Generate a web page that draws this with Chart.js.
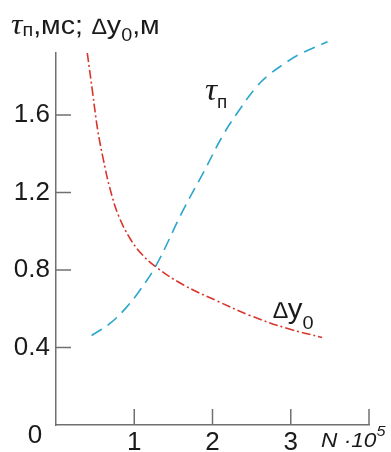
<!DOCTYPE html>
<html><head><meta charset="utf-8">
<script src="https://cdn.jsdelivr.net/npm/chart.js@4/dist/chart.umd.min.js"></script>
<style>html,body{margin:0;padding:0;background:#fff;overflow:hidden}#wrap{position:relative;width:391px;height:452px}</style>
</head><body><div id="wrap"><canvas id="c" width="391" height="452"></canvas></div>
<script>
// Δy0 (red dash-dot)
const dyX = [0.40, 0.47, 0.53, 0.60, 0.69, 0.80, 0.95, 1.10, 1.29, 1.62, 2.06, 2.48, 2.96, 3.40];
const dyY = [1.92, 1.71, 1.53, 1.38, 1.22, 1.08, 0.96, 0.88, 0.812, 0.725, 0.640, 0.565, 0.498, 0.452];
// τп (blue dashed)
const tauX = [0.455, 0.69, 0.90, 1.07, 1.29, 1.62, 1.88, 2.14, 2.35, 2.55, 2.70, 2.90, 3.12, 3.47];
const tauY = [0.462, 0.524, 0.607, 0.694, 0.832, 1.105, 1.30, 1.50, 1.63, 1.74, 1.80, 1.86, 1.915, 1.978];
const xTicks = [1, 2, 3, 4];
const yTicks = [0.4, 0.8, 1.2, 1.6];
const xLabels = ['1', '2', '3', ''];
const yLabels = ['0.4', '0.8', '1.2', '1.6'];

const SANS = '"Liberation Sans", Arial, sans-serif';
const SERIF = '"Liberation Serif", serif';

function drawRich(ctx, x, y, segs, sx) {
  sx = sx || 1;
  ctx.save();
  ctx.translate(x, y);
  ctx.scale(sx, 1);
  ctx.textBaseline = 'alphabetic';
  ctx.textAlign = 'left';
  ctx.fillStyle = '#1a1a1a';
  let cx = 0;
  for (const s of segs) {
    ctx.font = s.font;
    cx += (s.dx || 0);
    ctx.fillText(s.t, cx, (s.dy || 0));
    cx += ctx.measureText(s.t).width;
  }
  ctx.restore();
}

const decor = {
  id: 'decor',
  afterDraw(chart) {
    const ctx = chart.ctx;
    const xs = chart.scales.x, ys = chart.scales.y;
    const ca = chart.chartArea;
    ctx.save();
    ctx.strokeStyle = '#707070';
    ctx.lineWidth = 1.5;
    xTicks.forEach(v => {
      const px = xs.getPixelForValue(v);
      ctx.beginPath(); ctx.moveTo(px, ca.bottom); ctx.lineTo(px, ca.bottom - 16); ctx.stroke();
    });
    yTicks.forEach(v => {
      const py = ys.getPixelForValue(v);
      ctx.beginPath(); ctx.moveTo(ca.left, py); ctx.lineTo(ca.left + 15, py); ctx.stroke();
    });
    ctx.restore();
    // origin label
    ctx.save();
    ctx.font = '26px ' + SANS;
    ctx.fillStyle = '#1a1a1a';
    ctx.textAlign = 'center';
    ctx.textBaseline = 'alphabetic';
    ctx.fillText('0', 35, 443);
    ctx.restore();
    // axis name at x = 4
    drawRich(ctx, 321, 447, [
      {t: 'N ·10', font: 'italic 21px ' + SANS},
      {t: '5', font: 'italic 15px ' + SANS, dy: -11}
    ], 1.08);
    // title
    drawRich(ctx, 11, 34, [
      {t: 'τ', font: 'italic 29px ' + SERIF},
      {t: 'п', font: '18px ' + SANS, dy: 2},
      {t: ',мс; ', font: '26px ' + SANS},
      {t: '∆', font: 'italic 22px ' + SANS, dx: 1},
      {t: 'y', font: '26px ' + SANS},
      {t: '0', font: '18px ' + SANS, dy: 7},
      {t: ',м', font: '26px ' + SANS}
    ], 1.1);
    // curve labels
    drawRich(ctx, 205, 100, [
      {t: 'τ', font: 'italic 32px ' + SERIF},
      {t: 'п', font: '18px ' + SANS, dy: 8}
    ], 1.05);
    drawRich(ctx, 273, 318, [
      {t: '∆', font: 'italic 23px ' + SANS},
      {t: 'y', font: '28px ' + SANS},
      {t: '0', font: '19px ' + SANS, dy: 11}
    ], 1.05);
  }
};

new Chart(document.getElementById('c'), {
  type: 'line',
  data: {
    datasets: [
      {
        label: '∆y0',
        data: dyX.map((x, i) => ({x, y: dyY[i]})),
        borderColor: '#d8352c', borderWidth: 1.6, borderDash: [9, 3, 2, 3],
        pointRadius: 0, tension: 0.4, fill: false, clip: false
      },
      {
        label: 'τп',
        data: tauX.map((x, i) => ({x, y: tauY[i]})),
        borderColor: '#2ba6cc', borderWidth: 1.6, borderDash: [12, 7],
        pointRadius: 0, tension: 0.4, fill: false, clip: false
      }
    ]
  },
  options: {
    responsive: false, animation: false,
    layout: {padding: {top: 53, right: 22, left: 0, bottom: 0}},
    plugins: {legend: {display: false}, tooltip: {enabled: false}, title: {display: false}},
    scales: {
      x: {
        type: 'linear', min: 0, max: 4,
        afterBuildTicks: s => { s.ticks = xTicks.map(v => ({value: v})); },
        afterFit: s => { s.height = 27; },
        grid: {display: true, drawOnChartArea: false, drawTicks: false},
        border: {display: true, color: '#707070', width: 1.5},
        ticks: {
          callback: (v) => xLabels[xTicks.indexOf(v)] ?? '',
          font: {size: 26, family: SANS}, color: '#1a1a1a', padding: 2,
          maxRotation: 0, autoSkip: false
        }
      },
      y: {
        type: 'linear', min: 0, max: 1.92,
        afterBuildTicks: s => { s.ticks = yTicks.map(v => ({value: v})); },
        afterFit: s => { s.width = 56; },
        grid: {display: true, drawOnChartArea: false, drawTicks: false},
        border: {display: true, color: '#707070', width: 1.5},
        ticks: {
          callback: (v) => yLabels[yTicks.findIndex(t => Math.abs(t - v) < 1e-6)] ?? '',
          font: {size: 26, family: SANS}, color: '#1a1a1a', padding: 6, autoSkip: false
        }
      }
    }
  },
  plugins: [decor]
});
</script>
</body></html>
